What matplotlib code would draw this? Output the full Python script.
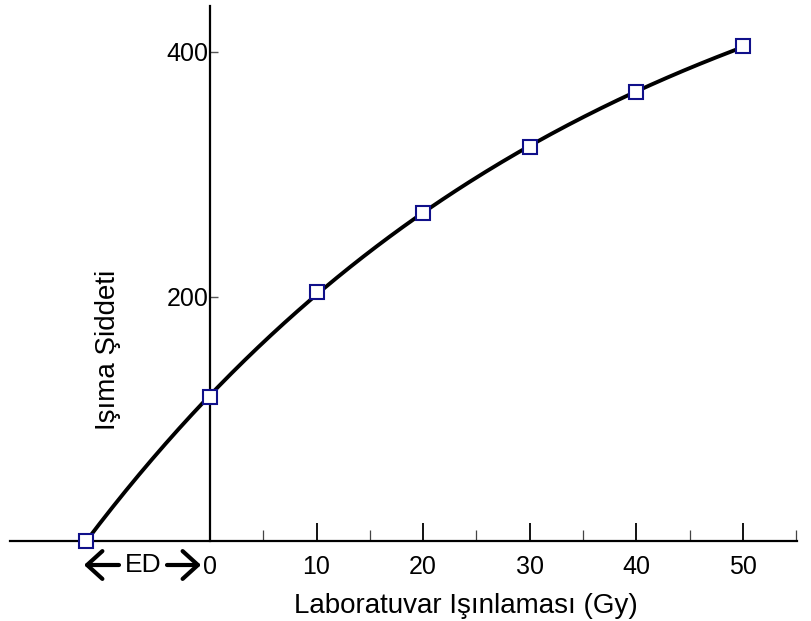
import matplotlib.pyplot as plt
from matplotlib.patches import FancyArrowPatch
import numpy as np

plt.rcParams['font.family'] = ['Liberation Sans', 'DejaVu Sans']

dose = [-11.6, 0, 10, 20, 30, 40, 50]
intensity = [0, 118, 204, 268, 322, 367, 405]

fig = plt.figure(figsize=(8.11, 6.21), dpi=100)
ax = fig.add_axes([0, 0, 1, 1])

# saturating exponential growth curve I = a - b*exp(-D/c), least squares fit
d = np.array(dose)
best = None
for c in np.linspace(20, 120, 501):
    A = np.column_stack([np.ones_like(d), -np.exp(-d / c)])
    sol, res, _, _ = np.linalg.lstsq(A, intensity, rcond=None)
    err = np.sum((A @ sol - intensity) ** 2)
    if best is None or err < best[0]:
        best = (err, c, sol)
_, c, (a, b) = best
xs = np.linspace(dose[0], dose[-1], 200)
ax.plot(xs, a - b * np.exp(-xs / c), color='black', lw=2.8, zorder=2)
ax.plot(dose, intensity, 's', ms=9.5, mfc='white', mec='#10108a', mew=1.5, zorder=3)

ax.set_xlim(-19.7, 56.4)
ax.set_ylim(-65.4, 442.5)

for s in ['top', 'right']:
    ax.spines[s].set_visible(False)
ax.spines['bottom'].set_position(('data', 0))
ax.spines['left'].set_position(('data', 0))
ax.spines['bottom'].set_bounds(-18.8, 55.1)
ax.spines['left'].set_bounds(0, 438)
ax.spines['bottom'].set_linewidth(1.6)
ax.spines['left'].set_linewidth(1.6)

ax.set_xticks([0, 10, 20, 30, 40, 50])
ax.set_xticks([5, 15, 25, 35, 45, 55], minor=True)
ax.set_yticks([200, 400])
ax.tick_params(axis='x', which='major', direction='in', length=13, width=1.3,
               labelsize=18, pad=10)
ax.tick_params(axis='x', which='minor', direction='in', length=8, width=0.9, color='#444444')
ax.tick_params(axis='y', direction='in', length=6, width=1.0, color='#555555',
               labelsize=18, pad=1)
ax.set_xticklabels(['0', '10', '20', '30', '40', '50'])

# "<- ED ->" marker under the axis between the intercept and zero
y_ed = 1 - 565 / 621
fig.text(143 / 811, y_ed, 'ED', fontsize=19, ha='center', va='center')
for start, end in [(119, 84), (167, 201)]:
    fig.add_artist(FancyArrowPatch(
        (start / 811, y_ed), (end / 811, y_ed), transform=fig.transFigure,
        arrowstyle='->,head_length=11,head_width=10', lw=3, color='black',
        mutation_scale=1, shrinkA=0, shrinkB=0))

fig.text(466 / 811, 1 - 606 / 621, 'Laboratuvar Işınlaması (Gy)', fontsize=20,
         ha='center', va='center')
fig.text(108 / 811, 1 - 350 / 621, 'Işıma Şiddeti', fontsize=20, rotation=90,
         ha='center', va='center')

fig.savefig('out.png', dpi=100)
